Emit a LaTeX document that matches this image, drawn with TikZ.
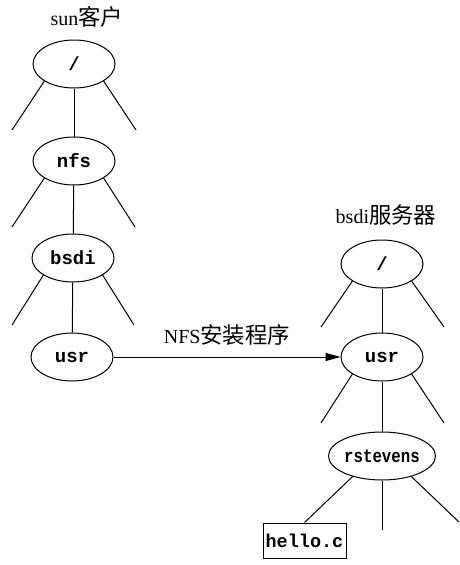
\documentclass[tikz,border=0pt]{standalone}
\usepackage{fontspec}
\setmainfont{Liberation Serif}
\setmonofont{Liberation Mono}
\newfontfamily\cjk[Scale=1.12]{Noto Sans CJK SC}
\usetikzlibrary{shapes.geometric,arrows.meta}
\tikzset{
  dirnode/.style={draw, ellipse, line width=1pt, minimum width=82pt, minimum height=48pt, inner sep=0pt,
    font=\fontsize{19}{21}\selectfont\ttfamily\bfseries},
  filenode/.style={draw, rectangle, line width=1pt, minimum width=83pt, minimum height=35pt, inner sep=0pt,
    font=\fontsize{18.5}{21}\selectfont\ttfamily\bfseries},
  lbl/.style={font=\fontsize{20}{23}\selectfont, inner sep=0pt},
  edge/.style={line width=1pt},
}
\begin{document}
\begin{tikzpicture}[x=1pt,y=-1pt]
\useasboundingbox (0,0) rectangle (459,565);
% left tree
\node[lbl] (sunlbl) at (87,17) {sun{\cjk 客户}};
\node[dirnode] (lroot) at (74,64) {/};
\node[dirnode] (lnfs) at (74,161) {nfs};
\node[dirnode] (lbsdi) at (73,258) {bsdi};
\node[dirnode] (lusr) at (72,357) {usr};
\coordinate (a1) at (12,130); \coordinate (a2) at (136,130);
\coordinate (b1) at (12,227); \coordinate (b2) at (135,227);
\coordinate (c1) at (12,325); \coordinate (c2) at (134,325);
\draw[edge] (lroot) -- (lnfs);
\draw[edge] (lnfs) -- (lbsdi);
\draw[edge] (lbsdi) -- (lusr);
\draw[edge] (lroot.210) -- (a1);
\draw[edge] (lroot.330) -- (a2);
\draw[edge] (lnfs.210) -- (b1);
\draw[edge] (lnfs.330) -- (b2);
\draw[edge] (lbsdi.210) -- (c1);
\draw[edge] (lbsdi.330) -- (c2);
% right tree
\node[lbl] (bsdilbl) at (386,215) {bsdi{\cjk 服务器}};
\node[dirnode] (rroot) at (382,264) {/};
\node[dirnode] (rusr) at (382,357) {usr};
\node[dirnode] (rrst) at (382,456) {\scalebox{0.83}[1]{rstevens}};
\node[filenode] (hello) at (304.5,540.5) {hello.c};
\coordinate (d1) at (321,327); \coordinate (d2) at (444,327);
\coordinate (e1) at (321,423); \coordinate (e2) at (444,423);
\coordinate (f2) at (382,530); \coordinate (f3) at (459,522);
\draw[edge] (rroot) -- (rusr);
\draw[edge] (rusr) -- (rrst);
\draw[edge] (rroot.210) -- (d1);
\draw[edge] (rroot.330) -- (d2);
\draw[edge] (rusr.210) -- (e1);
\draw[edge] (rusr.330) -- (e2);
\draw[edge] (rrst.215) -- (hello.north);
\draw[edge] (rrst.south) -- (f2);
\draw[edge] (rrst.325) -- (f3);
% mount arrow
\draw[edge, -{Triangle[length=15pt,width=8pt]}] (lusr.east) -- node[lbl, above=11pt] (mountlbl) {NFS{\cjk 安装程序}} (rusr.west);
\end{tikzpicture}
\end{document}
